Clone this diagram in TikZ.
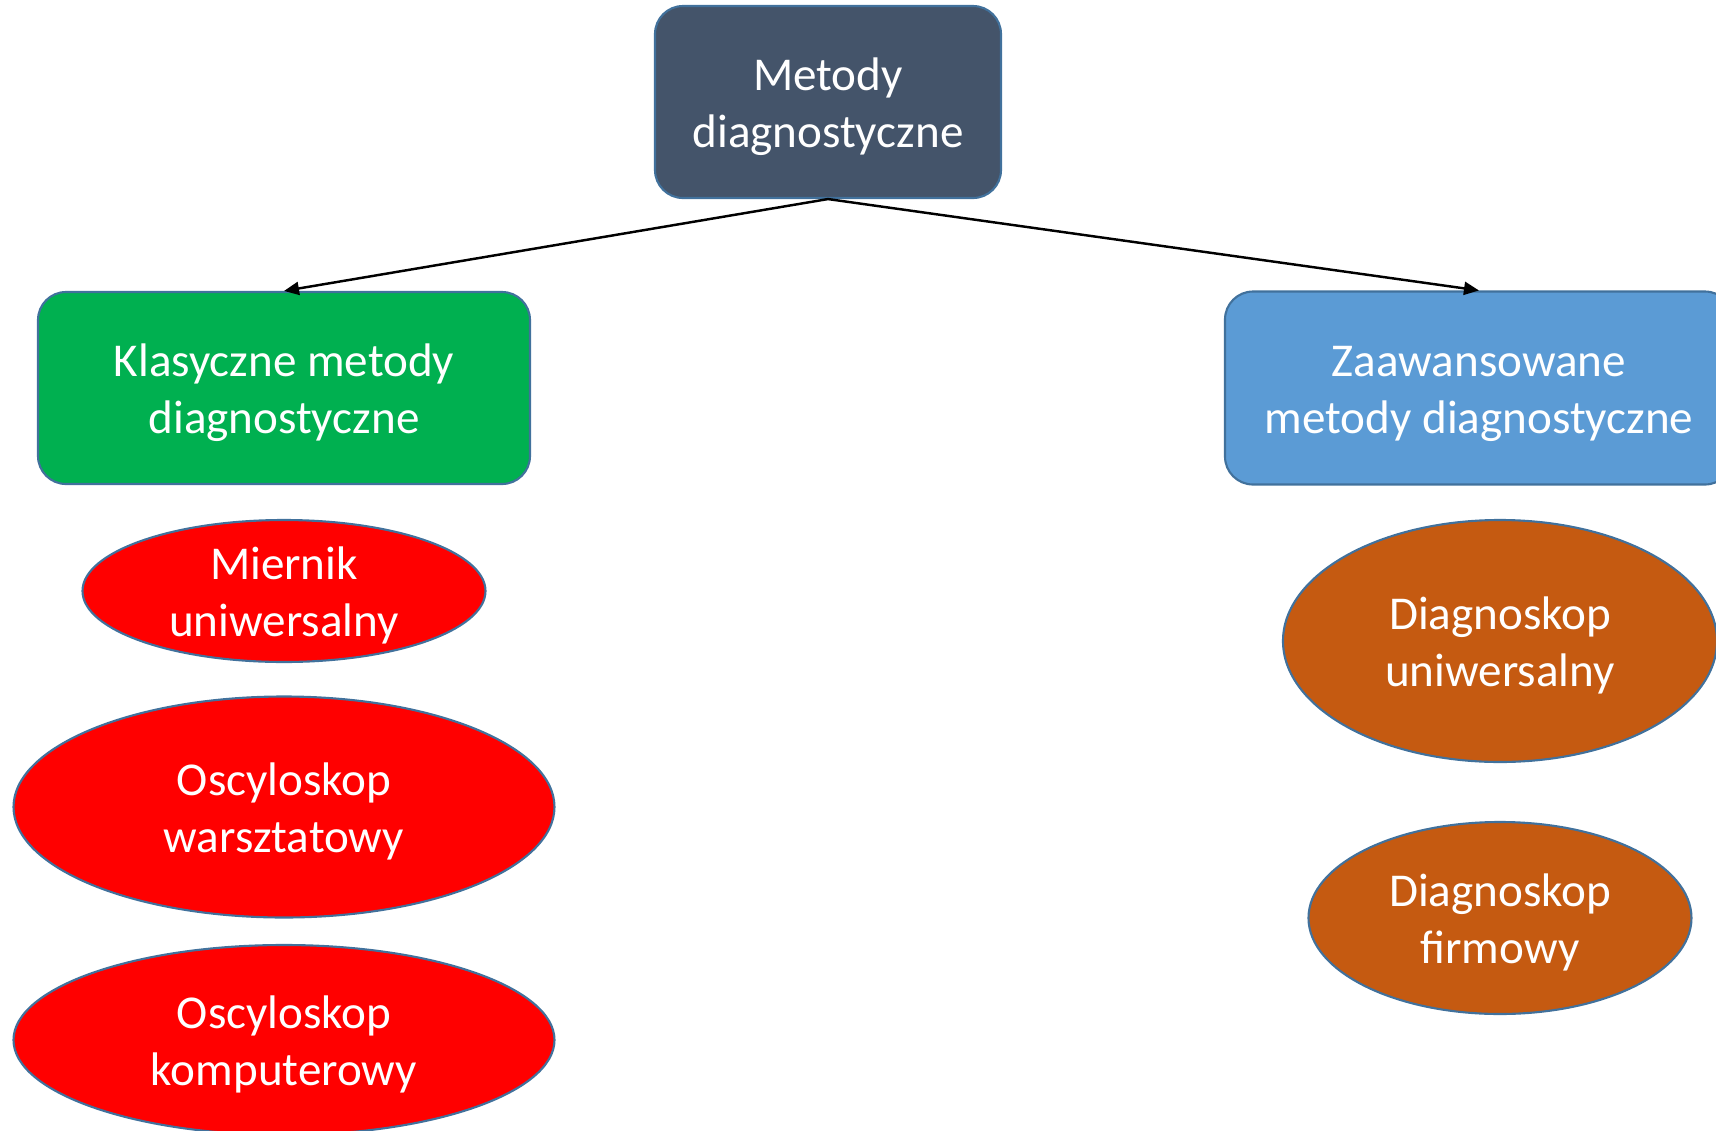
\documentclass[tikz,border=0pt]{standalone}
\usepackage{fontspec}
\setmainfont{Carlito}
\usepackage{tikz}
\usetikzlibrary{shapes.geometric,arrows.meta}
\definecolor{topgray}{HTML}{44546A}
\definecolor{klgreen}{HTML}{00B050}
\definecolor{zablue}{HTML}{5B9BD5}
\definecolor{ovred}{HTML}{FF0000}
\definecolor{ovorange}{HTML}{C55A11}
\definecolor{edgeblue}{HTML}{41719C}

\begin{document}
\begin{tikzpicture}
				\tikzstyle{box}=[rectangle,rounded corners=0.28cm,draw=edgeblue,line width=0.6pt,text=white,align=center,text height=0.92cm,text depth=0.02cm,font=\fontsize{13.4pt}{16.2pt}\selectfont]
				\tikzstyle{oval}=[ellipse,draw=edgeblue,line width=0.6pt,text=white,align=center,inner sep=0pt,text height=0.92cm,text depth=0.02cm,font=\fontsize{13.4pt}{16.2pt}\selectfont]
				\useasboundingbox (0,0) rectangle (17.16,-11.31);
				\node[box,fill=topgray,minimum width=3.46cm,minimum height=1.92cm](metody) at (8.28,-1.02) {Metody\\diagnostyczne};
				\node[box,fill=klgreen,minimum width=4.92cm,minimum height=1.92cm](klasyczne) at (2.84,-3.88) {Klasyczne metody\\diagnostyczne};
				\node[box,fill=zablue,minimum width=5.08cm,minimum height=1.93cm](zaawansowane) at (14.79,-3.88) {Zaawansowane\\metody diagnostyczne};
				\node[oval,fill=ovred,minimum width=4.03cm,minimum height=1.42cm](miernik) at (2.84,-5.91) {Miernik\\uniwersalny};
				\node[oval,fill=ovred,minimum width=5.41cm,minimum height=2.21cm](oscwars) at (2.84,-8.07) {Oscyloskop\\warsztatowy};
				\node[oval,fill=ovred,minimum width=5.41cm,minimum height=1.90cm](osckomp) at (2.84,-10.40) {Oscyloskop\\komputerowy};
				\node[oval,fill=ovorange,minimum width=4.34cm,minimum height=2.42cm](diaguni) at (15.00,-6.41) {Diagnoskop\\uniwersalny};
				\node[oval,fill=ovorange,minimum width=3.83cm,minimum height=1.92cm](diagfirm) at (15.00,-9.18) {Diagnoskop\\firmowy};
				\draw[-{Triangle[length=0.15cm,width=0.13cm]},line width=0.7pt] (metody.south) to (klasyczne.north);
				\draw[-{Triangle[length=0.15cm,width=0.13cm]},line width=0.7pt] (metody.south) to (zaawansowane.north);
			\end{tikzpicture}
\end{document}
